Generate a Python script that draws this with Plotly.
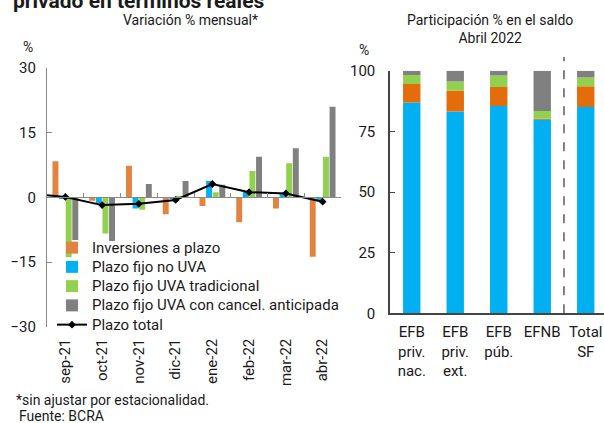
import plotly.graph_objects as go

# ---------------- data ----------------
months = ["sep-21", "oct-21", "nov-21", "dic-21", "ene-22", "feb-22", "mar-22", "abr-22"]
inversiones = [8.4, -0.8, 7.3, -3.9, -2.0, -5.8, -2.6, -13.8]
pf_no_uva = [-0.3, -1.5, -2.6, -0.3, 3.8, 1.3, 0.8, -0.8]
pf_uva_trad = [-13.9, -8.4, -2.9, 0.4, 1.2, 6.1, 7.9, 9.4]
pf_uva_cancel = [-9.9, -10.1, 3.1, 3.8, 2.9, 9.4, 11.4, 21.0]
months_line = ["ago-21"] + months
plazo_total = [0.9, 0.1, -1.8, -1.5, -0.6, 3.1, 1.2, 0.9, -1.0]

entities = ["EFB<br>priv.<br>nac.", "EFB<br>priv.<br>ext.", "EFB<br>púb.", "EFNB", "Total<br>SF"]
part_no_uva = [86.9, 83.2, 85.4, 79.9, 85.0]
part_inversiones = [7.6, 8.5, 7.9, 0.3, 8.6]
part_uva_trad = [3.7, 3.8, 4.7, 3.2, 3.6]
part_uva_cancel = [1.8, 4.5, 2.0, 16.6, 2.8]

series_names = ["Inversiones a plazo", "Plazo fijo no UVA", "Plazo fijo UVA tradicional",
                "Plazo fijo UVA con cancel. anticipada", "Plazo total"]

# ---------------- styles ----------------
W, H = 604, 423
FONT = "Roboto"
TXT = "#1a1a1a"
C_OR_L = "#E0843F"
C_OR_R = "#E46C0A"
C_BLUE = "#00B0F0"
C_GREEN = "#92D050"
C_GRAY = "#808080"
AX_L = "#8a8a8a"
AX_R = "#444444"

def px_x(p):
    return p / W

def px_y(p):
    return 1 - p / H

L_dom_x = [px_x(47), px_x(341)]
L_dom_y = [px_y(326.7), px_y(68)]
R_dom_x = [px_x(390), 1.0]
R_dom_y = [px_y(313.3), px_y(70.7)]

def legend_label(s):
    return f'<span style="font-size:15px">{s}</span>'

fig = go.Figure()

left_series = [(inversiones, C_OR_L), (pf_no_uva, C_BLUE), (pf_uva_trad, C_GREEN), (pf_uva_cancel, C_GRAY)]
for i, (vals, col) in enumerate(left_series):
    fig.add_trace(go.Bar(x=months, y=vals, name=legend_label(series_names[i]),
                         marker=dict(color=col, line=dict(width=0)),
                         offsetgroup=f"g{i}", xaxis="x", yaxis="y", legendrank=i + 1))

fig.add_trace(go.Scatter(x=months_line, y=plazo_total, name=legend_label(series_names[4]), mode="lines+markers",
                         line=dict(color="black", width=2), marker=dict(symbol="diamond", size=6, color="black"),
                         xaxis="x3", yaxis="y", legendrank=5, cliponaxis=True))

right_series = [(part_no_uva, C_BLUE), (part_inversiones, C_OR_R), (part_uva_trad, C_GREEN), (part_uva_cancel, C_GRAY)]
for vals, col in right_series:
    fig.add_trace(go.Bar(x=entities, y=vals, marker=dict(color=col, line=dict(width=0)), width=0.4,
                         offsetgroup="stack", xaxis="x2", yaxis="y2", showlegend=False))

tickfont = dict(family=FONT, size=15, color=TXT)

fig.update_layout(
    width=W, height=H, margin=dict(l=0, r=0, t=0, b=0, autoexpand=False),
    paper_bgcolor="white", plot_bgcolor="rgba(0,0,0,0)",
    font=dict(family=FONT, color=TXT, size=14),
    barmode="relative", bargap=0.28, bargroupgap=0.1,
    showlegend=True,
    legend=dict(x=px_x(52), y=px_y(233), xanchor="left", yanchor="top", bgcolor="rgba(0,0,0,0)",
                font=dict(family=FONT, size=12.5, color=TXT), tracegroupgap=0, itemwidth=30,
                traceorder="normal"),
    xaxis=dict(domain=L_dom_x, anchor="y", type="category", categoryorder="array",
               categoryarray=months_line, range=[0.5, 8.5], tickangle=-90, showline=False,
               ticks="", showgrid=False, zeroline=False, tickfont=tickfont, ticklabelstandoff=8,
               automargin=False),
    xaxis3=dict(overlaying="x", anchor="free", position=(L_dom_y[0] + L_dom_y[1]) / 2, type="category",
                categoryorder="array", categoryarray=months_line, range=[0.5, 8.5], showline=True,
                linecolor=AX_L, linewidth=1.3, ticks="inside", tickson="boundaries", ticklen=4, tickcolor=AX_L,
                showticklabels=False, showgrid=False, zeroline=False, automargin=False),
    yaxis=dict(domain=L_dom_y, anchor="x", range=[-30, 30], tickvals=[-30, -15, 0, 15, 30],
               ticks="inside", ticklen=5, tickcolor=AX_L, showline=True, linecolor=AX_L, linewidth=1.3,
               showgrid=False, zeroline=False, tickfont=tickfont, ticklabelstandoff=7, automargin=False),
    xaxis2=dict(domain=R_dom_x, anchor="y2", type="category", categoryorder="array", categoryarray=entities,
                range=[-0.5, 4.42], showline=True, linecolor=AX_R, linewidth=1.5, ticks="",
                showgrid=False, zeroline=False, tickfont=tickfont, ticklabelstandoff=4, automargin=False),
    yaxis2=dict(domain=R_dom_y, anchor="x2", range=[0, 100], tickvals=[0, 25, 50, 75, 100],
                ticks="inside", ticklen=5, tickcolor=AX_R, showline=True, linecolor=AX_R, linewidth=1.5,
                showgrid=False, zeroline=False, tickfont=tickfont, ticklabelstandoff=10, automargin=False),
)

fig.add_shape(type="line", xref="x2", yref="paper", x0=3.5, x1=3.5, y0=R_dom_y[0], y1=px_y(57),
              line=dict(color="#333333", width=1.2, dash="dash"))

def ann(text, x, y, size=14, xanchor="center", yanchor="middle", bold=False, align="center"):
    fig.add_annotation(text=f"<b>{text}</b>" if bold else text, xref="paper", yref="paper",
                       x=px_x(x), y=px_y(y), xanchor=xanchor, yanchor=yanchor, showarrow=False,
                       align=align, font=dict(family=FONT, size=size, color=TXT))

ann("privado en términos reales", 11, 1, size=21, xanchor="left", bold=True)
ann("Variación % mensual*", 190, 20)
ann("%", 21, 47, xanchor="left")
ann("Participación % en el saldo<br>Abril 2022", 490, 29)
ann("%", 357, 50, xanchor="left")
ann("*sin ajustar por estacionalidad.", 14, 400, xanchor="left")
ann("Fuente: BCRA", 17, 416, xanchor="left")

fig.write_html("out.html", config={"displayModeBar": False},
               post_script="document.body.style.margin='0px';document.body.style.overflow='hidden';")
